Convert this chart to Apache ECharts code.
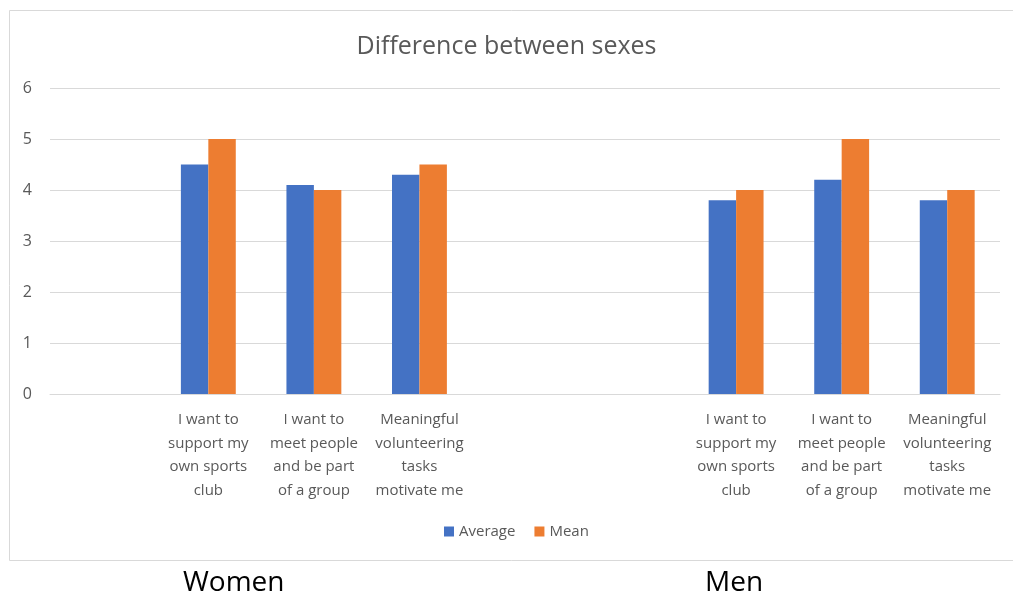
<!DOCTYPE html>
<html>
<head>
<meta charset="utf-8">
<script src="https://cdn.jsdelivr.net/npm/echarts@6/dist/echarts.min.js"></script>
<style>
html,body{margin:0;padding:0;background:#fff;}
#chart{width:1013px;height:596px;}
</style>
</head>
<body>
<div id="chart"></div>
<script>
const categories = [
  '',
  'I want to\nsupport my\nown sports\nclub',
  'I want to\nmeet people\nand be part\nof a group',
  'Meaningful\nvolunteering\ntasks\nmotivate me',
  '',
  '',
  'I want to\nsupport my\nown sports\nclub',
  'I want to\nmeet people\nand be part\nof a group',
  'Meaningful\nvolunteering\ntasks\nmotivate me'
];
const averageValues = [null, 4.5, 4.1, 4.3, null, null, 3.8, 4.2, 3.8];
const meanValues = [null, 5, 4, 4.5, null, null, 4, 5, 4];
const yTicks = [0, 1, 2, 3, 4, 5, 6];
const groupLabels = ['Women', 'Men'];

const chart = echarts.init(document.getElementById('chart'));
const font = '"Open Sans", "Liberation Sans", sans-serif';
chart.setOption({
  animation: false,
  backgroundColor: '#ffffff',
  title: {
    text: 'Difference between sexes',
    left: 'center',
    top: 29,
    textStyle: { fontFamily: font, fontSize: 25, fontWeight: 'normal', color: '#595959' }
  },
  legend: {
    data: ['Average', 'Mean'],
    left: 439,
    top: 519,
    icon: 'rect',
    itemWidth: 10,
    itemHeight: 10,
    itemGap: 19,
    textStyle: { fontFamily: font, fontSize: 15, color: '#595959' }
  },
  grid: { left: 50, right: 13, top: 88, bottom: 202, containLabel: false },
  xAxis: {
    type: 'category',
    data: categories,
    axisLine: { show: true, lineStyle: { color: '#d9d9d9', width: 1 } },
    axisTick: { show: false },
    axisLabel: {
      interval: 0,
      margin: 14,
      fontFamily: font,
      fontSize: 15,
      lineHeight: 23.5,
      color: '#595959',
      align: 'center'
    }
  },
  yAxis: {
    type: 'value',
    min: yTicks[0],
    max: yTicks[yTicks.length - 1],
    interval: 1,
    axisLine: { show: false },
    axisTick: { show: false },
    splitLine: { lineStyle: { color: '#d9d9d9', width: 1 } },
    axisLabel: { fontFamily: font, fontSize: 16, color: '#595959', margin: 18 }
  },
  series: [
    { name: 'Average', type: 'bar', data: averageValues, barWidth: '26%', barGap: '0%', itemStyle: { color: '#4472C4' } },
    { name: 'Mean', type: 'bar', data: meanValues, barWidth: '26%', barGap: '0%', itemStyle: { color: '#ED7D31' } }
  ],
  graphic: [
    { type: 'rect', shape: { x: 9.5, y: 10.5, width: 1020, height: 550 }, style: { fill: 'none', stroke: '#d9d9d9', lineWidth: 1 }, silent: true, z: -1 },
    { type: 'text', left: 183, top: 569, style: { text: groupLabels[0], font: '28px "Open Sans", sans-serif', fill: '#000000' } },
    { type: 'text', left: 705, top: 569, style: { text: groupLabels[1], font: '28px "Open Sans", sans-serif', fill: '#000000' } }
  ]
});
</script>
</body>
</html>
